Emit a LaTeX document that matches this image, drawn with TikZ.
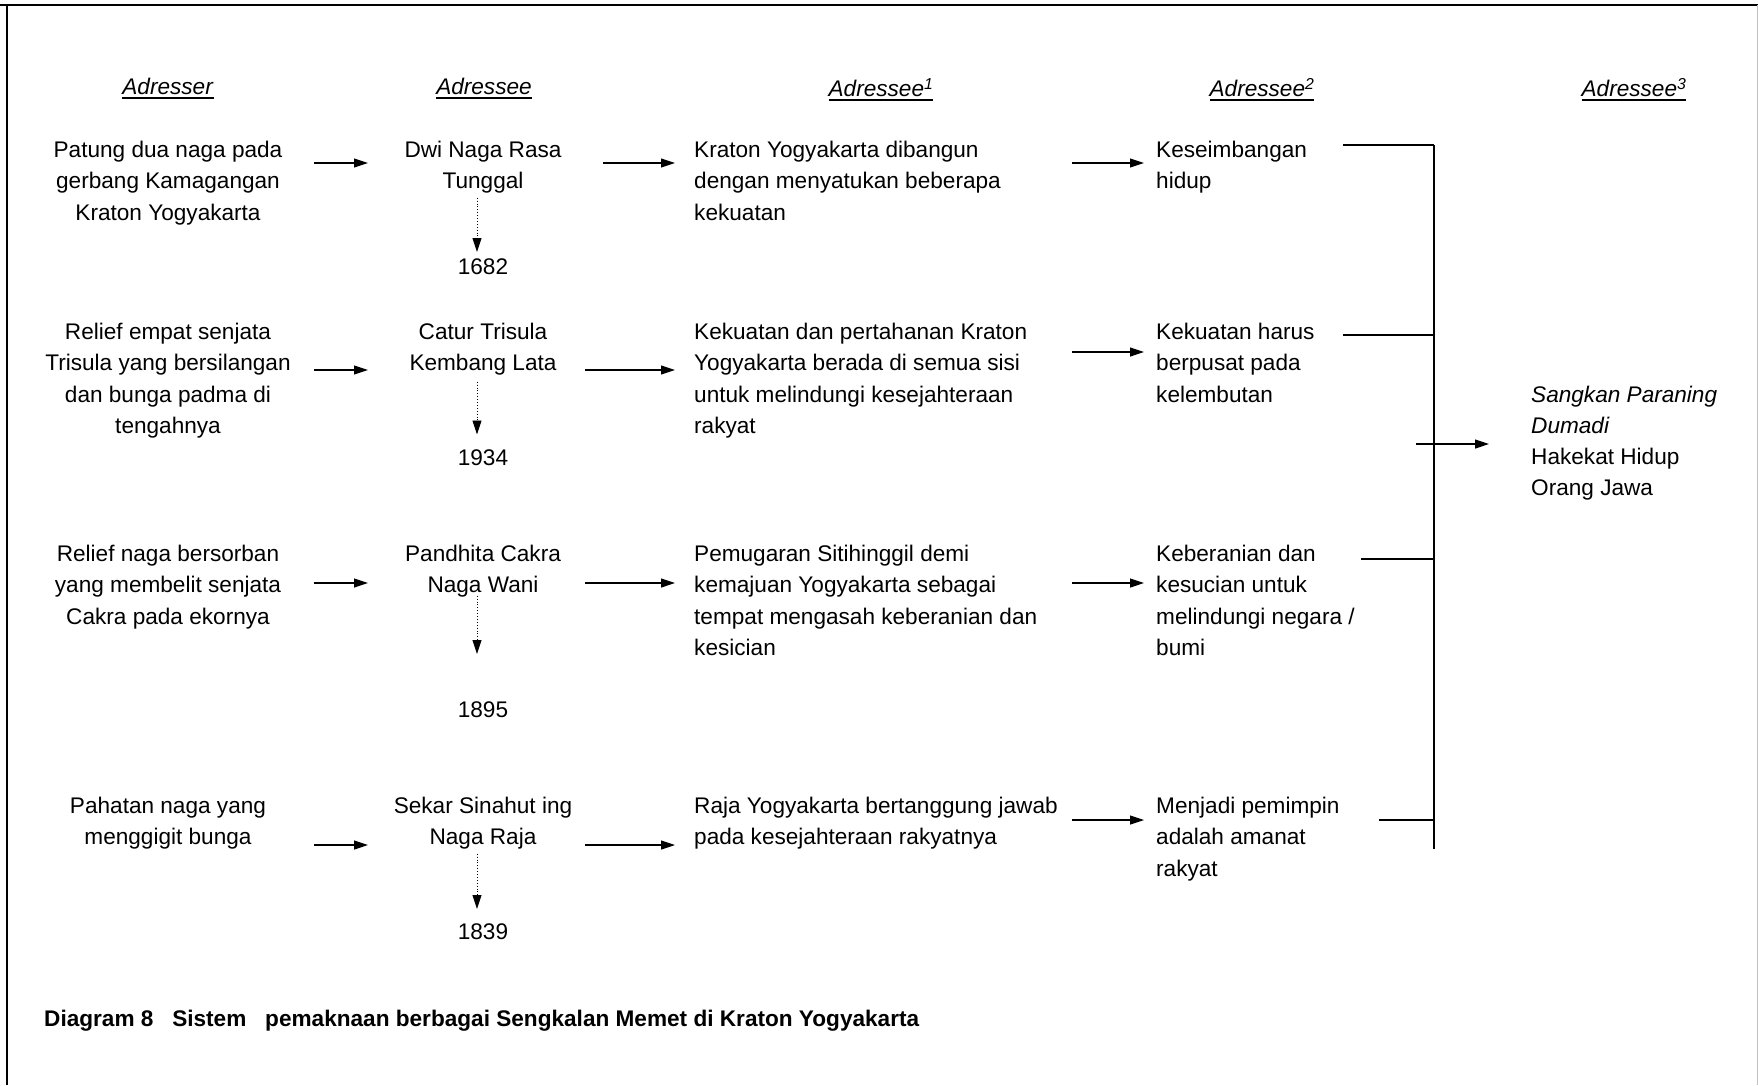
\documentclass[tikz,border=0pt]{standalone}
\usepackage{fontspec}
\setmainfont{Liberation Sans}
\usetikzlibrary{arrows.meta}

\newcommand{\garisbawah}[1]{\setbox0\hbox{#1}\rlap{\rule[-4.5pt]{\wd0}{2.2pt}}\box0}

\begin{document}
\begin{tikzpicture}[x=1pt, y=-1pt,
    >={Triangle[length=14pt, width=9pt]},
    teks/.style={inner sep=0pt, font=\fontsize{22.6}{31.3}\selectfont},
    tengah/.style={teks, anchor=north, align=center},
    kiri/.style={teks, anchor=north west, align=left},
    panah/.style={->, line width=1.1pt},
    titik/.style={->, dotted, line width=0.9pt},
    kurung/.style={line width=1.6pt}]

    \useasboundingbox (0,0) rectangle (1758,1085);

    % Bingkai
    \draw[line width=2pt] (0,5) -- (1758,5);
    \draw[line width=2pt] (6.5,5) -- (6.5,1085);
    \draw[black!25, line width=1pt] (1757,5) -- (1757,1085);

    % Kepala kolom
    \node[tengah] at (168, 78)  (ha) {\garisbawah{\textit{Adresser}}};
    \node[tengah] at (484, 78)  (hb) {\garisbawah{\textit{Adressee}}};
    \node[tengah] at (881, 78)  (hc) {\garisbawah{\textit{Adressee}\textsuperscript{\textit{1}}}};
    \node[tengah] at (1262, 78) (hd) {\garisbawah{\textit{Adressee}\textsuperscript{\textit{2}}}};
    \node[tengah] at (1634, 78) (he) {\garisbawah{\textit{Adressee}\textsuperscript{\textit{3}}}};

    % Nodes
    \node[tengah] at (168, 141) (a1) {Patung dua naga pada\\gerbang Kamagangan\\Kraton Yogyakarta};
    \node[tengah] at (168, 323) (a2) {Relief empat senjata\\Trisula yang bersilangan\\dan bunga padma di\\tengahnya};
    \node[tengah] at (168, 545) (a3) {Relief naga bersorban\\yang membelit senjata\\Cakra pada ekornya};
    \node[tengah] at (168, 797) (a4) {Pahatan naga yang\\menggigit bunga};

    \node[tengah] at (483, 141) (b1) {Dwi Naga Rasa\\Tunggal};
    \node[tengah] at (483, 323) (b2) {Catur Trisula\\Kembang Lata};
    \node[tengah] at (483, 545) (b3) {Pandhita Cakra\\Naga Wani};
    \node[tengah] at (483, 797) (b4) {Sekar Sinahut ing\\Naga Raja};

    \node[tengah] at (483, 259)   (t1) {1682};
    \node[tengah] at (483, 449.5) (t2) {1934};
    \node[tengah] at (483, 702)   (t3) {1895};
    \node[tengah] at (483, 924)   (t4) {1839};

    \node[kiri] at (694, 141) (c1) {Kraton Yogyakarta dibangun\\dengan menyatukan beberapa\\kekuatan};
    \node[kiri] at (694, 323) (c2) {Kekuatan dan pertahanan Kraton\\Yogyakarta berada di semua sisi\\untuk melindungi kesejahteraan\\rakyat};
    \node[kiri] at (694, 545) (c3) {Pemugaran Sitihinggil demi\\kemajuan Yogyakarta sebagai\\tempat mengasah keberanian dan\\kesician};
    \node[kiri] at (694, 797) (c4) {Raja Yogyakarta bertanggung jawab\\pada kesejahteraan rakyatnya};

    \node[kiri] at (1156, 141) (d1) {Keseimbangan\\hidup};
    \node[kiri] at (1156, 323) (d2) {Kekuatan harus\\berpusat pada\\kelembutan};
    \node[kiri] at (1156, 545) (d3) {Keberanian dan\\kesucian untuk\\melindungi negara /\\bumi};
    \node[kiri] at (1156, 797) (d4) {Menjadi pemimpin\\adalah amanat\\rakyat};

    \node[kiri] at (1531, 385.5) (e) {\textit{Sangkan Paraning}\\\textit{Dumadi}\\Hakekat Hidup\\Orang Jawa};

    \node[kiri, font=\fontsize{22.6}{31.3}\selectfont\bfseries] at (44, 1009.5) (cap)
        {Diagram 8~~~Sistem~~~pemaknaan berbagai Sengkalan Memet di Kraton Yogyakarta};

    % Ujung panah
    \coordinate (k1) at (314, 0);
    \coordinate (k2) at (368, 0);
    \coordinate (k3) at (585, 0);
    \coordinate (k3a) at (603, 0);
    \coordinate (k4) at (675, 0);
    \coordinate (k5) at (1072, 0);
    \coordinate (k6) at (1144, 0);

    \coordinate (r1) at (0, 163);
    \coordinate (r2) at (0, 370);
    \coordinate (r2b) at (0, 352);
    \coordinate (r3) at (0, 583);
    \coordinate (r4) at (0, 845);
    \coordinate (r4b) at (0, 820);

    \draw[panah] (k1 |- r1) -- (k2 |- r1);
    \draw[panah] (k3a |- r1) -- (k4 |- r1);
    \draw[panah] (k5 |- r1) -- (k6 |- r1);

    \draw[panah] (k1 |- r2) -- (k2 |- r2);
    \draw[panah] (k3 |- r2) -- (k4 |- r2);
    \draw[panah] (k5 |- r2b) -- (k6 |- r2b);

    \draw[panah] (k1 |- r3) -- (k2 |- r3);
    \draw[panah] (k3 |- r3) -- (k4 |- r3);
    \draw[panah] (k5 |- r3) -- (k6 |- r3);

    \draw[panah] (k1 |- r4) -- (k2 |- r4);
    \draw[panah] (k3 |- r4) -- (k4 |- r4);
    \draw[panah] (k5 |- r4b) -- (k6 |- r4b);

    % Tahun
    \draw[titik, shorten <=4pt, shorten >=7pt]  ([xshift=-6pt]b1.south) -- ([xshift=-6pt]t1.north);
    \draw[titik, shorten <=6pt, shorten >=15pt] ([xshift=-6pt]b2.south) -- ([xshift=-6pt]t2.north);
    \draw[titik, shorten <=-2pt, shorten >=48pt] ([xshift=-6pt]b3.south) -- ([xshift=-6pt]t3.north);
    \draw[titik, shorten <=4pt, shorten >=15pt] ([xshift=-6pt]b4.south) -- ([xshift=-6pt]t4.north);

    % Kurung
    \coordinate (s1) at (1343, 145);
    \coordinate (s2) at (1343, 335);
    \coordinate (s3) at (1361, 559);
    \coordinate (s4) at (1379, 820);
    \coordinate (v1) at (1434, 145);
    \coordinate (v2) at (1434, 849);
    \coordinate (o1) at (1416, 444);

    \draw[kurung] (s1) -- (s1 -| v1);
    \draw[kurung] (s2) -- (s2 -| v1);
    \draw[kurung] (s3) -- (s3 -| v1);
    \draw[kurung] (s4) -- (s4 -| v1);
    \draw[kurung] (v1) -- (v2);
    \draw[panah, shorten >=42pt] (o1) -- (o1 -| e.west);

\end{tikzpicture}
\end{document}
